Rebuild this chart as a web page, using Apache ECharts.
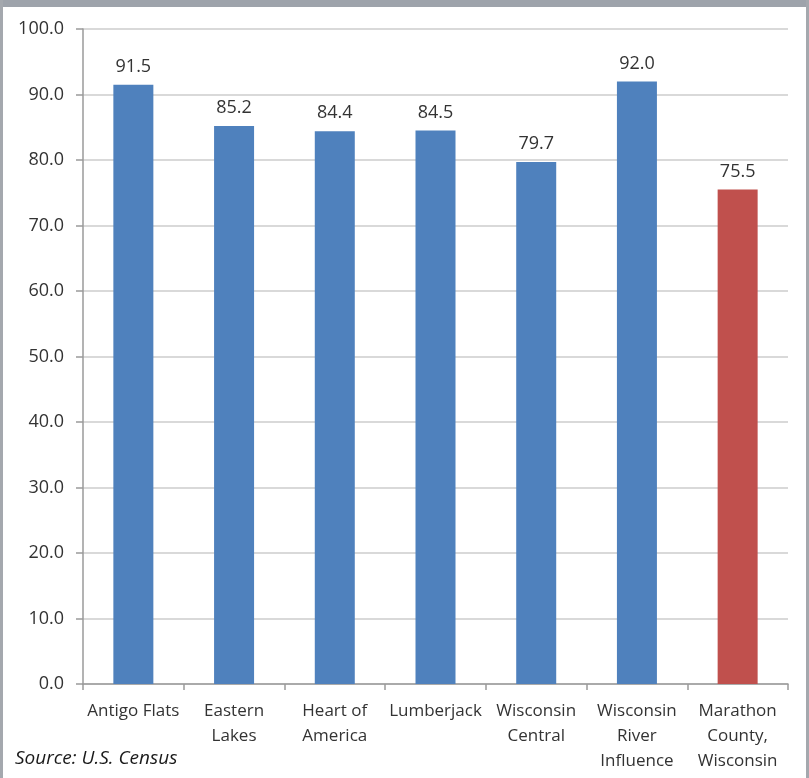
<!DOCTYPE html>
<html>
<head>
<meta charset="utf-8">
<script src="https://cdn.jsdelivr.net/npm/echarts@6/dist/echarts.min.js"></script>
<style>
  html, body { margin: 0; padding: 0; background: #ffffff; }
  #chart { width: 809px; height: 778px; }
</style>
</head>
<body>
<div id="chart"></div>
<script>
// Regions compared in the chart
const categories = [
  'Antigo Flats',
  'Eastern\nLakes',
  'Heart of\nAmerica',
  'Lumberjack',
  'Wisconsin\nCentral',
  'Wisconsin\nRiver\nInfluence',
  'Marathon\nCounty,\nWisconsin'
];
// Percentage per region
const values = [91.5, 85.2, 84.4, 84.5, 79.7, 92.0, 75.5];
// The county-level bar is highlighted
const highlightIndex = 6;
const sourceNote = 'Source: U.S. Census';

const FONT = '"Open Sans", "Noto Sans", sans-serif';
const BLUE = '#4f81bd';
const RED = '#c0504d';
const TEXT = '#333333';

const chart = echarts.init(document.getElementById('chart'), null, { renderer: 'canvas' });

chart.setOption({
  animation: false,
  backgroundColor: '#ffffff',
  grid: { left: 83, right: 21, top: 29, bottom: 94, containLabel: false },
  xAxis: {
    type: 'category',
    data: categories,
    axisLine: { show: true, lineStyle: { color: '#9a9a9a', width: 1.5 } },
    axisTick: { show: true, alignWithLabel: false, length: 6, lineStyle: { color: '#9a9a9a', width: 1.5 } },
    axisLabel: {
      interval: 0,
      margin: 15,
      color: TEXT,
      fontFamily: FONT,
      fontSize: 17,
      lineHeight: 25
    },
    splitLine: { show: false }
  },
  yAxis: {
    type: 'value',
    min: 0,
    max: 100,
    interval: 10,
    axisLine: { show: true, lineStyle: { color: '#9a9a9a', width: 1.5 } },
    axisTick: { show: true, length: 7, lineStyle: { color: '#9a9a9a', width: 1.5 } },
    axisLabel: {
      margin: 19,
      color: TEXT,
      fontFamily: FONT,
      fontSize: 18,
      formatter: v => v.toFixed(1)
    },
    splitLine: { show: true, lineStyle: { color: '#cdcdcd', width: 1.5 } }
  },
  series: [{
    type: 'bar',
    barWidth: 40,
    data: values.map((v, i) => ({
      value: v,
      itemStyle: { color: i === highlightIndex ? RED : BLUE }
    })),
    label: {
      show: true,
      position: 'top',
      distance: 9,
      color: TEXT,
      fontFamily: FONT,
      fontSize: 18,
      formatter: p => p.value.toFixed(1)
    }
  }],
  graphic: [
    // frame: gray band along the top, thin gray rules on the sides
    { type: 'rect', left: 0, top: 0, shape: { width: 809, height: 7 }, style: { fill: '#9ea3ab' }, silent: true },
    { type: 'rect', left: 0, top: 0, shape: { width: 3, height: 778 }, style: { fill: '#a4a8ae' }, silent: true },
    { type: 'rect', left: 806, top: 0, shape: { width: 3, height: 778 }, style: { fill: '#a4a8ae' }, silent: true },
    {
      type: 'text',
      left: 15,
      top: 749,
      style: {
        text: sourceNote,
        fill: '#1a1a1a',
        font: 'italic 19px ' + FONT
      },
      silent: true
    }
  ]
});
</script>
</body>
</html>
